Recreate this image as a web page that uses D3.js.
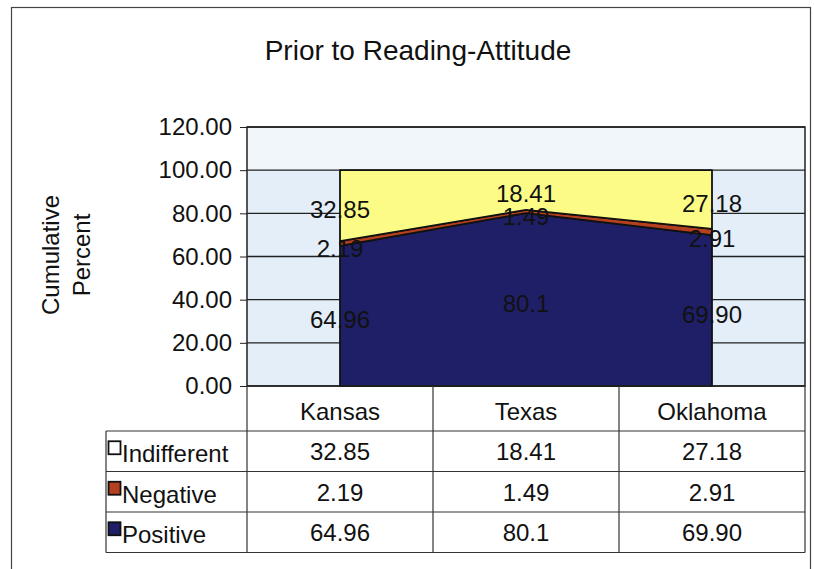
<!DOCTYPE html>
<html>
<head>
<meta charset="utf-8">
<title>Prior to Reading-Attitude</title>
<script src="https://d3js.org/d3.v7.min.js"></script>
<style>
  body { margin: 0; background: #fff; }
  text { font-family: "Liberation Sans", Arial, sans-serif; fill: #111; }
</style>
</head>
<body>
<div id="chart"></div>
<script>
// data
var states = ["Kansas", "Texas", "Oklahoma"];
var seriesNames = ["Positive", "Negative", "Indifferent"];
var positive = [64.96, 80.1, 69.90];
var negative = [2.19, 1.49, 2.91];
var indifferent = [32.85, 18.41, 27.18];
var positiveLabels = ["64.96", "80.1", "69.90"];
var negativeLabels = ["2.19", "1.49", "2.91"];
var indifferentLabels = ["32.85", "18.41", "27.18"];
var yTicks = [0, 20, 40, 60, 80, 100, 120];

var colors = { Positive: "#1f1f68", Negative: "#b4401f", Indifferent: "#fbfb86" };

var W = 814, H = 569;
var plot = { left: 247, right: 805, top: 127, bottom: 386 };
var fs = "24px";

var svg = d3.select("#chart").append("svg")
    .attr("width", W).attr("height", H);

// outer frame
svg.append("rect")
    .attr("x", 11.5).attr("y", 7.5)
    .attr("width", 799).attr("height", 600)
    .attr("fill", "none").attr("stroke", "#444").attr("stroke-width", 1.2);

svg.append("text")
    .attr("x", 418).attr("y", 60)
    .attr("text-anchor", "middle")
    .style("font-size", "28px")
    .text("Prior to Reading-Attitude");

var x = d3.scalePoint().domain(states).range([plot.left, plot.right]).padding(0.5);
var y = d3.scaleLinear().domain([0, 120]).range([plot.bottom, plot.top]);

// plot background
svg.append("rect")
    .attr("x", plot.left).attr("y", plot.top)
    .attr("width", plot.right - plot.left).attr("height", plot.bottom - plot.top)
    .attr("fill", "#e3eef8");
svg.append("rect")
    .attr("x", plot.left).attr("y", plot.top)
    .attr("width", plot.right - plot.left).attr("height", y(100) - plot.top)
    .attr("fill", "#f1f6fb");

// gridlines
svg.append("g").selectAll("line")
    .data(yTicks)
    .enter().append("line")
    .attr("x1", plot.left).attr("x2", plot.right)
    .attr("y1", function (d) { return y(d); })
    .attr("y2", function (d) { return y(d); })
    .attr("stroke", "#222").attr("stroke-width", 1.3);

// stacked areas
var rows = states.map(function (s, i) {
    return { state: s, Positive: positive[i], Negative: negative[i], Indifferent: indifferent[i] };
});
var stacked = d3.stack().keys(seriesNames)(rows);

var area = d3.area()
    .x(function (d) { return x(d.data.state); })
    .y0(function (d) { return y(d[0]); })
    .y1(function (d) { return y(d[1]); });

svg.append("g").selectAll("path")
    .data(stacked)
    .enter().append("path")
    .attr("d", area)
    .attr("fill", function (d) { return colors[d.key]; })
    .attr("stroke", "#111")
    .attr("stroke-width", 1.8)
    .attr("stroke-linejoin", "round");

// data labels
var labelSets = { Positive: positiveLabels, Negative: negativeLabels, Indifferent: indifferentLabels };
stacked.forEach(function (layer) {
    svg.append("g").selectAll("text")
        .data(layer)
        .enter().append("text")
        .attr("x", function (d) { return x(d.data.state); })
        .attr("y", function (d) {
            // negative band is too thin, its label sits just below it
            var mid = layer.key === "Negative" ? d[0] - 1.2 : (d[0] + d[1]) / 2;
            return y(mid) + (layer.key === "Negative" ? 9 : 12);
        })
        .attr("text-anchor", "middle")
        .style("font-size", fs)
        .text(function (d, i) { return labelSets[layer.key][i]; });
});

// plot border
svg.append("rect")
    .attr("x", plot.left).attr("y", plot.top)
    .attr("width", plot.right - plot.left).attr("height", plot.bottom - plot.top)
    .attr("fill", "none").attr("stroke", "#222").attr("stroke-width", 1.5);

// y axis
var yAxis = svg.append("g")
    .attr("transform", "translate(" + plot.left + ",0)")
    .call(d3.axisLeft(y).tickValues(yTicks).tickSize(7).tickPadding(8)
        .tickFormat(function (d) { return d3.format(".2f")(d); }));
yAxis.select(".domain").remove();
yAxis.selectAll("line").attr("stroke", "#222");
yAxis.selectAll("text")
    .style("font-size", fs)
    .style("font-family", "'Liberation Sans', Arial, sans-serif")
    .attr("fill", "#111");

svg.append("text")
    .attr("transform", "translate(59,255) rotate(-90)")
    .attr("text-anchor", "middle")
    .style("font-size", "24px")
    .selectAll("tspan")
    .data(["Cumulative", "Percent"])
    .enter().append("tspan")
    .attr("x", 0)
    .attr("dy", function (d, i) { return i === 0 ? 0 : 31; })
    .text(function (d) { return d; });

// data table
var table = { left: 106, headerBottom: 431, rowH: 40.5 };
var colEdges = [plot.left].concat(states.map(function (s) { return x(s) + x.step() / 2; }));
var tg = svg.append("g").attr("stroke", "#333").attr("stroke-width", 1.2);

colEdges.forEach(function (cx) {
    tg.append("line")
        .attr("x1", cx).attr("x2", cx)
        .attr("y1", plot.bottom).attr("y2", table.headerBottom + 3 * table.rowH);
});
tg.append("line")
    .attr("x1", table.left).attr("x2", table.left)
    .attr("y1", table.headerBottom).attr("y2", table.headerBottom + 3 * table.rowH);
[0, 1, 2, 3].forEach(function (r) {
    var yy = table.headerBottom + r * table.rowH;
    tg.append("line")
        .attr("x1", table.left).attr("x2", colEdges[3])
        .attr("y1", yy).attr("y2", yy);
});

svg.append("g").selectAll("text")
    .data(states)
    .enter().append("text")
    .attr("x", function (d) { return x(d); })
    .attr("y", 420)
    .attr("text-anchor", "middle")
    .style("font-size", fs)
    .text(function (d) { return d; });

var tableRows = [
    { name: "Indifferent", labels: indifferentLabels },
    { name: "Negative", labels: negativeLabels },
    { name: "Positive", labels: positiveLabels }
];
tableRows.forEach(function (row, r) {
    var cy = table.headerBottom + r * table.rowH + table.rowH / 2;
    svg.append("rect")
        .attr("x", 108.5).attr("y", cy - 10)
        .attr("width", 12).attr("height", 13)
        .attr("fill", row.name === "Indifferent" ? "#fff" : colors[row.name])
        .attr("stroke", "#111").attr("stroke-width", 1.8);
    svg.append("text")
        .attr("x", 122).attr("y", cy + 11)
        .style("font-size", fs)
        .text(row.name);
    svg.append("g").selectAll("text")
        .data(states)
        .enter().append("text")
        .attr("x", function (d) { return x(d); })
        .attr("y", cy + 9)
        .attr("text-anchor", "middle")
        .style("font-size", fs)
        .text(function (d, i) { return row.labels[i]; });
});
</script>
</body>
</html>
